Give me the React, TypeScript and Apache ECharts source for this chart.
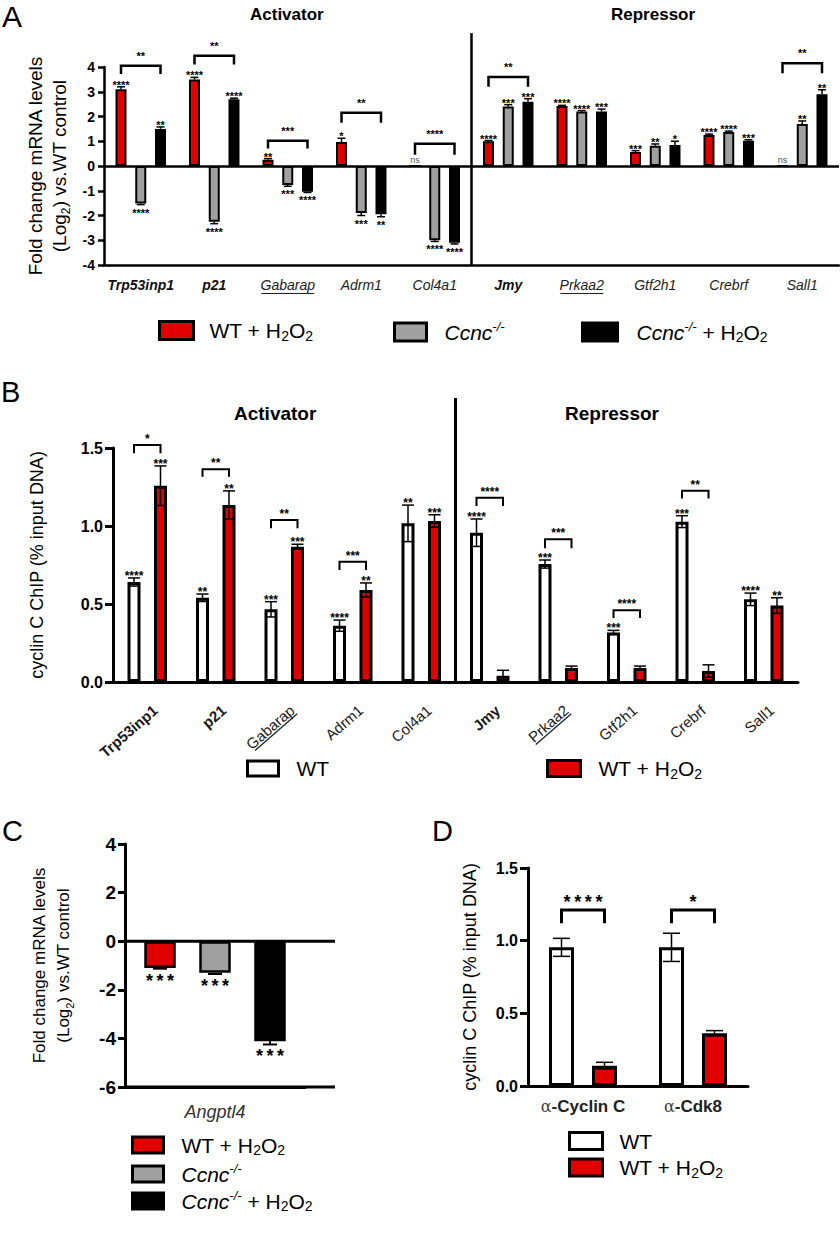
import React, { useEffect, useRef } from 'react';
import * as echarts from 'echarts';

const FONT = '"Liberation Sans", Arial, Helvetica, sans-serif';
const RED = '#e10000';
const GRAY = '#a0a0a0';
const BLACK = '#000000';
const WHITE = '#ffffff';

const S_WT = 'WT';
const S_WTH = 'WT + H2O2';
const S_KO = 'Ccnc-/-';
const S_KOH = 'Ccnc-/- + H2O2';

// ---------- shared categories ----------
const genes = ['Trp53inp1', 'p21', 'Gabarap', 'Adrm1', 'Col4a1', 'Jmy', 'Prkaa2', 'Gtf2h1', 'Crebrf', 'Sall1'];
const geneStyleA: Record<string, string> = { Trp53inp1: 'b', p21: 'b', Gabarap: 'u', Adrm1: 'i', Col4a1: 'i', Jmy: 'b', Prkaa2: 'u', Gtf2h1: 'i', Crebrf: 'i', Sall1: 'i' };
const geneStyleB: Record<string, string> = { Trp53inp1: 'b', p21: 'b', Gabarap: 'u', Adrm1: 'n', Col4a1: 'n', Jmy: 'b', Prkaa2: 'u', Gtf2h1: 'n', Crebrf: 'n', Sall1: 'n' };

// ---------- Panel A: log2 fold change ----------
const aWtH2O2 = [3.1, 3.5, 0.25, 0.97, 0, 1.0, 2.42, 0.57, 1.25, 0];
const aWtH2O2Err = [0.1, 0.08, 0.05, 0.15, 0, 0.03, 0.03, 0.05, 0.04, 0];
const aCcnc = [-1.52, -2.25, -0.77, -1.9, -3.0, 2.4, 2.2, 0.82, 1.37, 1.7];
const aCcncErr = [0.04, 0.08, 0.05, 0.1, 0.05, 0.08, 0.04, 0.07, 0.04, 0.12];
const aCcncH2O2 = [1.5, 2.7, -1.04, -1.95, -3.1, 2.6, 2.2, 0.85, 1.02, 2.9];
const aCcncH2O2Err = [0.08, 0.04, 0.03, 0.1, 0.05, 0.12, 0.1, 0.15, 0.04, 0.18];
const aStarsWtH2O2 = ['****', '****', '**', '*', 'ns', '****', '****', '***', '****', 'ns'];
const aStarsCcnc = ['****', '****', '***', '***', '****', '***', '****', '**', '****', '**'];
const aStarsCcncH2O2 = ['**', '****', '****', '**', '****', '***', '***', '*', '***', '**'];
// [category, bracket top, leg end, from bar, to bar]
const aBrackets = [
  [0, 4.05, 3.72, 0, 2],
  [1, 4.45, 4.1, 0, 2],
  [2, 1.02, 0.71, 0, 2],
  [3, 2.15, 1.75, 0, 2],
  [4, 0.9, 0.45, 0, 2],
  [5, 3.6, 3.2, 0, 2],
  [9, 4.15, 3.75, 0, 2],
];
const aBracketLabels = ['**', '**', '***', '**', '****', '**', '**'];
const aTicks = { min: -4, max: 4, interval: 1 };
const aDivider = [[4, 5.37, -4]];

// ---------- Panel B: ChIP ----------
const bWt = [0.641, 0.54, 0.466, 0.361, 1.017, 0.957, 0.756, 0.318, 1.028, 0.53];
const bWtErr = [0.026, 0.024, 0.049, 0.036, 0.117, 0.088, 0.026, 0.013, 0.038, 0.04];
const bWtH2O2 = [1.258, 1.135, 0.867, 0.59, 1.032, 0.04, 0.09, 0.09, 0.07, 0.49];
const bWtH2O2Err = [0.127, 0.09, 0.016, 0.045, 0.04, 0.035, 0.012, 0.012, 0.04, 0.05];
const bStarsWt = ['****', '**', '***', '****', '**', '****', '***', '***', '***', '****'];
const bStarsWtH2O2 = ['***', '**', '***', '**', '***', '', '', '', '', '**'];
const bBrackets = [
  [0, 1.52, 1.466, 0, 1],
  [1, 1.363, 1.316, 0, 1],
  [2, 1.038, 0.985, 0, 1],
  [3, 0.771, 0.718, 0, 1],
  [5, 1.181, 1.128, 0, 1],
  [6, 0.915, 0.857, 0, 1],
  [7, 0.46, 0.41, 0, 1],
  [8, 1.226, 1.177, 0, 1],
];
const bBracketLabels = ['*', '**', '**', '***', '****', '***', '****', '**'];
const bTicks = { min: 0, max: 1.5, interval: 0.5 };
const bDivider = [[4, 1.82, 0]];

// ---------- Panel C ----------
const cCats = ['Angptl4'];
const cWtH2O2 = [-1.1];
const cWtH2O2Err = [0.03];
const cCcnc = [-1.3];
const cCcncErr = [0.05];
const cCcncH2O2 = [-4.12];
const cCcncH2O2Err = [0.13];
const cStars = ['*\u2009*\u2009*'];
const cTicks = { min: -6, max: 4, interval: 2 };
const cLines = [[0, 0], [0, -6]];

// ---------- Panel D ----------
const dCats = ['\u03b1-Cyclin C', '\u03b1-Cdk8'];
const dWt = [0.954, 0.954];
const dWtErr = [0.062, 0.097];
const dWtH2O2 = [0.14, 0.363];
const dWtH2O2Err = [0.023, 0.018];
const dBrackets = [
  [0, 1.211, 1.12, 0, 1],
  [1, 1.211, 1.12, 0, 1],
];
const dBracketLabels = ['*\u2009*\u2009*\u2009*', '*'];
const dTicks = { min: 0, max: 1.5, interval: 0.5 };

// ---------- helpers ----------
const offsetOf = (pos: number, n: number, step: number) => (pos - (n - 1) / 2) * step;

function bar(name: string, axis: number, data: number[], color: string, bw: number, step: number, border: number, extra: any = {}) {
  return {
    type: 'bar', name, xAxisIndex: axis, yAxisIndex: axis, data,
    barWidth: bw, barGap: ((step / bw - 1) * 100).toFixed(1) + '%',
    itemStyle: { color, borderColor: '#000', borderWidth: border },
    silent: true, emphasis: { disabled: true }, z: 2, ...extra,
  };
}

function errBars(axis: number, vals: number[], errs: number[], stars: string[], pos: number, n: number, cfg: any) {
  return {
    type: 'custom', xAxisIndex: axis, yAxisIndex: axis, silent: true, clip: false, z: 4,
    data: vals.map((v, i) => [i, v, errs[i]]),
    renderItem: (params: any, api: any) => {
      const i = api.value(0);
      const v = api.value(1);
      const e = api.value(2);
      const base = api.coord([i, v]);
      const x = base[0] + offsetOf(pos, n, cfg.step);
      const dir = v >= 0 ? 1 : -1;
      const yEnd = api.coord([i, v + dir * e])[1];
      const yIn = api.coord([i, v - dir * e])[1];
      const ls = { stroke: '#000', lineWidth: cfg.lw };
      const ch: any[] = [];
      if (e > 0) {
        ch.push({ type: 'line', shape: { x1: x, y1: cfg.both ? yIn : base[1], x2: x, y2: yEnd }, style: ls });
        ch.push({ type: 'line', shape: { x1: x - cfg.cap / 2, y1: yEnd, x2: x + cfg.cap / 2, y2: yEnd }, style: ls });
        if (cfg.both) ch.push({ type: 'line', shape: { x1: x - cfg.cap / 2, y1: yIn, x2: x + cfg.cap / 2, y2: yIn }, style: ls });
      }
      const s = stars[params.dataIndex];
      if (s) {
        const ns = s === 'ns';
        const y = ns ? yEnd - 6 : dir > 0 ? yEnd - cfg.up : yEnd + cfg.down;
        ch.push({
          type: 'text',
          style: {
            text: s, x, y, align: 'center', verticalAlign: 'middle', fontFamily: FONT,
            fontSize: ns ? 9 : cfg.font, fontWeight: ns ? 'normal' : 'bold', fill: ns ? '#555' : '#000',
          },
        });
      }
      return { type: 'group', children: ch };
    },
  };
}

function brackets(axis: number, rows: number[][], labels: string[], n: number, cfg: any) {
  return {
    type: 'custom', xAxisIndex: axis, yAxisIndex: axis, silent: true, clip: false, z: 4,
    data: rows,
    renderItem: (params: any, api: any) => {
      const i = api.value(0);
      const pt = api.coord([i, api.value(1)]);
      const yl = api.coord([i, api.value(2)])[1];
      const x1 = pt[0] + offsetOf(api.value(3), n, cfg.step);
      const x2 = pt[0] + offsetOf(api.value(4), n, cfg.step);
      return {
        type: 'group',
        children: [
          { type: 'polyline', shape: { points: [[x1, yl], [x1, pt[1]], [x2, pt[1]], [x2, yl]] }, style: { stroke: '#000', fill: 'none', lineWidth: cfg.lw } },
          {
            type: 'text',
            style: {
              text: labels[params.dataIndex], x: (x1 + x2) / 2, y: pt[1] - cfg.up, align: 'center', verticalAlign: 'middle',
              fontFamily: FONT, fontSize: cfg.font, fontWeight: 'bold', fill: '#000',
            },
          },
        ],
      };
    },
  };
}

function divider(axis: number, rows: number[][], lw: number) {
  return {
    type: 'custom', xAxisIndex: axis, yAxisIndex: axis, silent: true, clip: false, z: 4,
    data: rows,
    renderItem: (params: any, api: any) => {
      const i = api.value(0);
      const c = api.coord([i, api.value(1)]);
      const x = c[0] + api.size([1, 0])[0] / 2;
      const y2 = api.coord([i, api.value(2)])[1];
      return { type: 'line', shape: { x1: x, y1: c[1], x2: x, y2 }, style: { stroke: '#000', lineWidth: lw } };
    },
  };
}

function hLines(axis: number, rows: number[][], lw: number, extend: number) {
  return {
    type: 'custom', xAxisIndex: axis, yAxisIndex: axis, silent: true, clip: false, z: 5,
    data: rows,
    renderItem: (params: any, api: any) => {
      const c = api.coord([api.value(0), api.value(1)]);
      const band = api.size([1, 0])[0];
      return { type: 'line', shape: { x1: c[0] - band / 2, y1: c[1], x2: c[0] + band / 2 + extend, y2: c[1] }, style: { stroke: '#000', lineWidth: lw } };
    },
  };
}

function richName(n: string) {
  switch (n) {
    case S_WT: return '{n|WT}';
    case S_WTH: return '{n|WT + H}{s|2}{n|O}{s|2}';
    case S_KO: return '{i|Ccnc}{p|-/-}';
    case S_KOH: return '{i|Ccnc}{p|-/-}{n| + H}{s|2}{n|O}{s|2}';
    default: return n;
  }
}

function legendItem(name: string, left: number, top: number, iw: number, ih: number, sp: number, fs: number) {
  const small = Math.round(fs * 0.68);
  const sup = Math.round(fs * 0.6);
  return {
    data: [name], left, top, padding: 0, itemWidth: iw, itemHeight: ih, icon: 'rect', selectedMode: false,
    itemStyle: { borderColor: '#000', borderWidth: 3 },
    formatter: (n: string) => `{sp| }${richName(n)}`,
    textStyle: {
      fontFamily: FONT, fontSize: fs, color: '#000',
      rich: {
        sp: { width: sp, fontSize: fs, lineHeight: 24 },
        n: { fontFamily: FONT, fontSize: fs, lineHeight: 24, color: '#000' },
        s: { fontFamily: FONT, fontSize: small, lineHeight: small, verticalAlign: 'bottom', color: '#000' },
        i: { fontFamily: FONT, fontStyle: 'italic', fontSize: fs, lineHeight: 24, color: '#000' },
        p: { fontFamily: FONT, fontStyle: 'italic', fontSize: sup, lineHeight: sup, verticalAlign: 'top', color: '#000' },
      },
    },
  };
}

const axisLineStyle = (w: number) => ({ color: '#000', width: w });

function geneLabelA(v: string) {
  const st = geneStyleA[v];
  if (st === 'u') return `{u|${v}}\n{ul${v}| }`;
  return `{${st}|${v}}`;
}

const ulStyle = (w: number) => ({ width: w, height: 1.2, lineHeight: 3, fontSize: 1, backgroundColor: '#222' });

// approximate text widths of the underlined B labels (15px Liberation Sans)
const bUnderlineWidth: Record<string, number> = { Gabarap: 56, Prkaa2: 47 };
const B_LABEL_ROT = 0.716; // about 41 degrees

// rotated gene labels for panel B, placed at the category positions reported by the main chart's axis
function rotatedLabelGraphics(chart: any) {
  const out: any[] = [];
  genes.forEach((name, i) => {
    const p = chart.convertToPixel({ xAxisIndex: 1, yAxisIndex: 1 }, [i, 0]);
    const st = geneStyleB[name];
    const ax = p[0] + 8;
    const ay = p[1] + 26;
    out.push({
      type: 'text', x: ax, y: ay, rotation: B_LABEL_ROT, silent: true,
      style: {
        text: name, align: 'right', verticalAlign: 'middle',
        fontFamily: FONT, fontSize: 15, fontWeight: st === 'b' ? 'bold' : 'normal', fill: '#1a1a1a',
      },
    });
    if (st === 'u') {
      const w = bUnderlineWidth[name] || 50;
      out.push({
        type: 'rect', x: ax, y: ay, rotation: B_LABEL_ROT, silent: true,
        shape: { x: -w, y: 7, width: w, height: 1.3 }, style: { fill: '#222' },
      });
    }
  });
  return out;
}

// ---------- configs ----------
const A_BW = 11, A_STEP = 19.75, A_BORDER = 2;
const B_BW = 13, B_STEP = 26.5, B_BORDER = 3;
const C_BW = 31.5, C_STEP = 55, C_BORDER = 2.5;
const D_BW = 25, D_STEP = 43, D_BORDER = 3;

const aErrCfg = { step: A_STEP, lw: 1.5, cap: 8, both: false, font: 11, up: 2, down: 8 };
const bErrCfg = { step: B_STEP, lw: 1.5, cap: 12, both: true, font: 12, up: 2, down: 8 };
const cErrCfg = { step: C_STEP, lw: 2, cap: 14, both: false, font: 18, up: 4, down: 12 };
const dErrCfg = { step: D_STEP, lw: 1.5, cap: 17, both: true, font: 18, up: 4, down: 10 };

function buildOption() {
  const titleStyle = (fs: number, bold: boolean) => ({ fontFamily: FONT, fontSize: fs, fontWeight: bold ? 'bold' : 'normal', color: '#000' });
  return {
    animation: false,
    textStyle: { fontFamily: FONT },
    title: [
      { text: 'A', left: 2, top: 1, padding: 0, textStyle: titleStyle(30, false) },
      { text: 'Activator', left: 250, top: 6, padding: 0, textStyle: titleStyle(17, true) },
      { text: 'Repressor', left: 611, top: 6, padding: 0, textStyle: titleStyle(17, true) },
      { text: 'B', left: 1, top: 377, padding: 0, textStyle: titleStyle(29, false) },
      { text: 'Activator', left: 234, top: 404, padding: 0, textStyle: titleStyle(19, true) },
      { text: 'Repressor', left: 565, top: 404, padding: 0, textStyle: titleStyle(19, true) },
      { text: 'C', left: 2, top: 816, padding: 0, textStyle: titleStyle(29, false) },
      { text: 'D', left: 432, top: 816, padding: 0, textStyle: titleStyle(29, false) },
    ],
    legend: [
      legendItem(S_WTH, 158, 320, 34, 18, 11, 21),
      legendItem(S_KO, 393, 320, 32, 18, 13, 21),
      legendItem(S_KOH, 581, 320, 35, 18, 14, 21),
      legendItem(S_WT, 246, 758, 31, 15, 13, 21),
      legendItem(S_WTH, 546, 758, 33, 16, 13, 21),
      legendItem(S_WTH, 131, 1134.5, 31, 16, 13, 21),
      legendItem(S_KO, 131, 1162, 31, 16, 13, 21),
      legendItem(S_KOH, 131, 1189, 31, 16, 13, 21),
      legendItem(S_WT, 568, 1130.5, 33, 17, 12, 21),
      legendItem(S_WTH, 568, 1157, 33, 17, 12, 21),
    ],
    grid: [
      { left: 104, top: 67, width: 735, height: 198 },
      { left: 113, top: 448, width: 685, height: 234 },
      { left: 125, top: 844, width: 180, height: 243 },
      { left: 528, top: 868, width: 220, height: 218 },
    ],
    xAxis: [
      {
        gridIndex: 0, type: 'category', data: genes,
        axisLine: { onZero: false, lineStyle: axisLineStyle(2.5) },
        axisTick: { alignWithLabel: true, length: 7, lineStyle: axisLineStyle(2.5) },
        axisLabel: {
          interval: 0, margin: 12, formatter: geneLabelA,
          rich: {
            b: { fontFamily: FONT, fontSize: 14, fontWeight: 'bold', fontStyle: 'italic', color: '#111', lineHeight: 15 },
            i: { fontFamily: FONT, fontSize: 14, fontStyle: 'italic', color: '#222', lineHeight: 15 },
            u: { fontFamily: FONT, fontSize: 14, fontStyle: 'italic', color: '#222', lineHeight: 15 },
            ulGabarap: ulStyle(53),
            ulPrkaa2: ulStyle(43),
          },
        },
        splitLine: { show: false },
      },
      {
        gridIndex: 1, type: 'category', data: genes,
        axisLine: { onZero: false, lineStyle: axisLineStyle(3) },
        axisTick: { alignWithLabel: true, length: 8, lineStyle: axisLineStyle(3) },
        axisLabel: { show: false },
        splitLine: { show: false },
      },
      {
        gridIndex: 2, type: 'category', data: cCats,
        axisLine: { onZero: false, lineStyle: axisLineStyle(3) },
        axisTick: { alignWithLabel: true, length: 8, lineStyle: axisLineStyle(3) },
        axisLabel: { margin: 16, fontFamily: FONT, fontSize: 18, fontStyle: 'italic', color: '#333' },
        splitLine: { show: false },
      },
      {
        gridIndex: 3, type: 'category', data: dCats,
        axisLine: { onZero: false, lineStyle: axisLineStyle(3) },
        axisTick: { alignWithLabel: true, length: 8, lineStyle: axisLineStyle(3) },
        axisLabel: {
          interval: 0, margin: 12,
          formatter: (v: string) => `{a|${v[0]}}{b|${v.slice(1)}}`,
          rich: {
            a: { fontFamily: '"DejaVu Serif", serif', fontSize: 16, color: '#444' },
            b: { fontFamily: FONT, fontSize: 17, fontWeight: 'bold', color: '#222' },
          },
        },
        splitLine: { show: false },
      },
    ],
    yAxis: [
      {
        gridIndex: 0, type: 'value', ...aTicks,
        axisLine: { show: true, lineStyle: axisLineStyle(2.5) },
        axisTick: { show: true, length: 6, lineStyle: axisLineStyle(2.5) },
        axisLabel: { fontFamily: FONT, fontSize: 14, fontWeight: 'bold', color: '#000', margin: 9 },
        splitLine: { show: false },
        name: 'Fold change mRNA levels\n(Log{sub|2}) vs.WT control',
        nameLocation: 'middle', nameRotate: 90, nameGap: 25,
        nameTextStyle: {
          fontFamily: FONT, fontSize: 19, lineHeight: 24, color: '#000',
          rich: { sub: { fontFamily: FONT, fontSize: 12, lineHeight: 12, verticalAlign: 'bottom', color: '#000' } },
        },
      },
      {
        gridIndex: 1, type: 'value', ...bTicks,
        axisLine: { show: true, lineStyle: axisLineStyle(3) },
        axisTick: { show: true, length: 8, lineStyle: axisLineStyle(3) },
        axisLabel: { fontFamily: FONT, fontSize: 16, fontWeight: 'bold', color: '#000', margin: 10, formatter: (v: number) => v.toFixed(1) },
        splitLine: { show: false },
        name: 'cyclin C ChIP (% input DNA)', nameLocation: 'middle', nameRotate: 90, nameGap: 65,
        nameTextStyle: { fontFamily: FONT, fontSize: 18, lineHeight: 22, color: '#000' },
      },
      {
        gridIndex: 2, type: 'value', ...cTicks,
        axisLine: { show: true, lineStyle: axisLineStyle(3) },
        axisTick: { show: true, length: 7, lineStyle: axisLineStyle(3) },
        axisLabel: { fontFamily: FONT, fontSize: 19, fontWeight: 'bold', color: '#000', margin: 9 },
        splitLine: { show: false },
        name: 'Fold change mRNA levels\n(Log{sub|2}) vs.WT control',
        nameLocation: 'middle', nameRotate: 90, nameGap: 50,
        nameTextStyle: {
          fontFamily: FONT, fontSize: 17, lineHeight: 24, color: '#000',
          rich: { sub: { fontFamily: FONT, fontSize: 11, lineHeight: 11, verticalAlign: 'bottom', color: '#000' } },
        },
      },
      {
        gridIndex: 3, type: 'value', ...dTicks,
        axisLine: { show: true, lineStyle: axisLineStyle(3) },
        axisTick: { show: true, length: 8, lineStyle: axisLineStyle(3) },
        axisLabel: { fontFamily: FONT, fontSize: 16, fontWeight: 'bold', color: '#000', margin: 10, formatter: (v: number) => v.toFixed(1) },
        splitLine: { show: false },
        name: 'cyclin C ChIP (% input DNA)', nameLocation: 'middle', nameRotate: 90, nameGap: 47,
        nameTextStyle: { fontFamily: FONT, fontSize: 18, lineHeight: 22, color: '#000' },
      },
    ],
    series: [
      // Panel A
      bar(S_WTH, 0, aWtH2O2, RED, A_BW, A_STEP, A_BORDER, {
        markLine: {
          silent: true, symbol: ['none', 'none'], label: { show: false },
          lineStyle: { color: '#000', width: 2.5, type: 'solid' }, emphasis: { disabled: true },
          data: [{ yAxis: 0 }],
        },
      }),
      bar(S_KO, 0, aCcnc, GRAY, A_BW, A_STEP, A_BORDER),
      bar(S_KOH, 0, aCcncH2O2, BLACK, A_BW, A_STEP, A_BORDER),
      errBars(0, aWtH2O2, aWtH2O2Err, aStarsWtH2O2, 0, 3, aErrCfg),
      errBars(0, aCcnc, aCcncErr, aStarsCcnc, 1, 3, aErrCfg),
      errBars(0, aCcncH2O2, aCcncH2O2Err, aStarsCcncH2O2, 2, 3, aErrCfg),
      brackets(0, aBrackets, aBracketLabels, 3, { step: A_STEP, lw: 2.5, font: 11, up: 10 }),
      divider(0, aDivider, 2.5),
      // Panel B
      bar(S_WT, 1, bWt, WHITE, B_BW, B_STEP, B_BORDER),
      bar(S_WTH, 1, bWtH2O2, RED, B_BW, B_STEP, B_BORDER),
      errBars(1, bWt, bWtErr, bStarsWt, 0, 2, bErrCfg),
      errBars(1, bWtH2O2, bWtH2O2Err, bStarsWtH2O2, 1, 2, bErrCfg),
      brackets(1, bBrackets, bBracketLabels, 2, { step: B_STEP, lw: 2, font: 12, up: 6 }),
      divider(1, bDivider, 3),
      // Panel C
      bar(S_WTH, 2, cWtH2O2, RED, C_BW, C_STEP, C_BORDER),
      bar(S_KO, 2, cCcnc, GRAY, C_BW, C_STEP, C_BORDER),
      bar(S_KOH, 2, cCcncH2O2, BLACK, C_BW, C_STEP, C_BORDER),
      errBars(2, cWtH2O2, cWtH2O2Err, cStars, 0, 3, cErrCfg),
      errBars(2, cCcnc, cCcncErr, cStars, 1, 3, cErrCfg),
      errBars(2, cCcncH2O2, cCcncH2O2Err, cStars, 2, 3, cErrCfg),
      hLines(2, cLines, 3, 30),
      // Panel D
      bar(S_WT, 3, dWt, WHITE, D_BW, D_STEP, D_BORDER),
      bar(S_WTH, 3, dWtH2O2, RED, D_BW, D_STEP, D_BORDER),
      errBars(3, dWt, dWtErr, [], 0, 2, dErrCfg),
      errBars(3, dWtH2O2, dWtH2O2Err, [], 1, 2, dErrCfg),
      brackets(3, dBrackets, dBracketLabels, 2, { step: D_STEP, lw: 3, font: 18, up: 8 }),
    ],
  };
}

const boxStyle: any = { position: 'absolute', left: 0, top: 0, width: 840, height: 1259 };

export default function App() {
  const ref = useRef<HTMLDivElement>(null);
  const overlayRef = useRef<HTMLDivElement>(null);
  useEffect(() => {
    if (!ref.current || !overlayRef.current) return;
    const chart = echarts.init(ref.current, undefined, { renderer: 'svg' });
    chart.setOption(buildOption() as any);
    // second, label-only layer for the rotated panel-B category names
    const overlay = echarts.init(overlayRef.current, undefined, { renderer: 'svg' });
    overlay.setOption({
      animation: false,
      backgroundColor: 'transparent',
      graphic: rotatedLabelGraphics(chart),
    } as any);
    return () => {
      overlay.dispose();
      chart.dispose();
    };
  }, []);
  return (
    <div style={{ ...boxStyle, background: '#fff' }}>
      <div ref={ref} style={boxStyle} />
      <div ref={overlayRef} style={{ ...boxStyle, pointerEvents: 'none' }} />
    </div>
  );
}
